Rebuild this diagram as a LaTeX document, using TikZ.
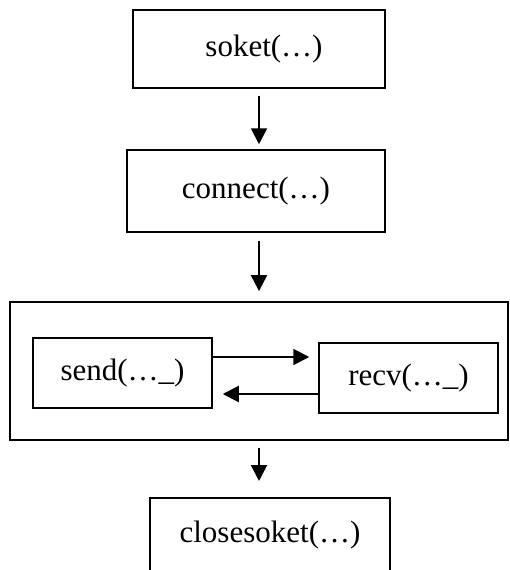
\documentclass[tikz,border=0pt]{standalone}
\usepackage{fontspec}
\setmainfont{Liberation Serif}
\usetikzlibrary{arrows.meta}

\begin{document}
\begin{tikzpicture}[x=1pt, y=-1pt,
    box/.style={draw, line width=1.5pt, inner sep=0pt, font=\fontsize{31}{37}\selectfont},
    arr/.style={line width=2pt, -{Triangle[length=16pt,width=16pt]}}]
                \clip (0, 0) rectangle (509, 570);
                \node[box, minimum width=252pt, minimum height=78pt] (soket) at (259, 49) {\hspace{10pt}soket(…)};
                \node[box, minimum width=258pt, minimum height=82pt] (connect) at (256, 191) {connect(…)};
                \node[box, line width=1.8pt, minimum width=498pt, minimum height=138pt] (loop) at (259, 371) {};
                \node[box, minimum width=179pt, minimum height=70pt] (send) at (122.5, 373) {send(…\_)\hspace{6pt}};
                \node[box, minimum width=179pt, minimum height=70pt] (recv) at (408.5, 378) {recv(…\_)\hspace{8pt}};
                \node[box, minimum width=240pt, minimum height=86pt, anchor=north] (closesoket) at (270, 497) {\raisebox{18pt}{closesoket(…)}};
                \draw[arr, shorten <=7pt, shorten >=5pt] (soket) -- (soket |- connect.north);
                \draw[arr, shorten <=8pt, shorten >=10pt] (connect.south -| loop) -- (loop.north);
                \draw[arr, shorten <=7pt, shorten >=16pt] (loop.south) -- (loop.south |- closesoket.north);
                \draw[arr, shorten >=9pt] ([yshift=16pt]send.east) -- ([yshift=16pt]send.east -| recv.west);
                \draw[arr, shorten >=10pt] ([yshift=-16pt]recv.west) -- ([yshift=-16pt]recv.west -| send.east);
            \end{tikzpicture}
\end{document}
